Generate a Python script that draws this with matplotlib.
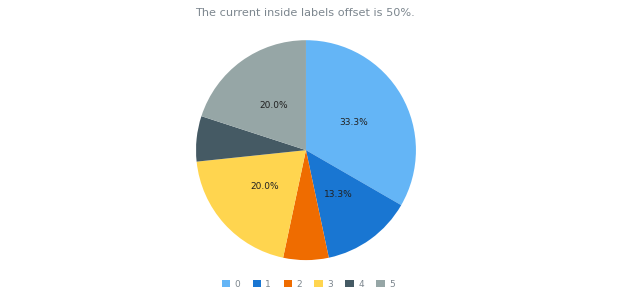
import matplotlib
matplotlib.use("Agg")
import matplotlib.pyplot as plt
from matplotlib.patches import Patch

# slice values (shown as percentages)
categories = ['0', '1', '2', '3', '4', '5']
values = [5, 2, 1, 3, 1, 3]
colors = ['#64b5f6', '#1976d2', '#ef6c00', '#ffd54f', '#455a64', '#96a6a6']

title = 'The current inside labels offset is 50%.'

fig = plt.figure(figsize=(6.2, 3.0), dpi=100)
ax = fig.add_axes([0.316, 0.133, 0.355, 0.733])


def fmt(p):
    # small slices get no label
    return '%.1f%%' % p if p > 10 else ''


wedges, texts, autotexts = ax.pie(values, colors=colors, startangle=90,
                                  counterclock=False, autopct=fmt,
                                  pctdistance=0.5,
                                  textprops=dict(fontsize=6.5, color='#212121'))
ax.set_xlim(-1.0, 1.0)
ax.set_ylim(-1.0, 1.0)
ax.set_aspect('equal')

fig.text(0.492, 0.955, title, ha='center', va='center', fontsize=8.1,
         color='#7c868e')

handles = [Patch(facecolor=c, edgecolor='none') for c in colors]
leg = fig.legend(handles, categories, loc='center', bbox_to_anchor=(0.497, 0.053),
                 ncol=6, frameon=False, fontsize=6.5, handlelength=0.9,
                 handleheight=0.9, handletextpad=0.5, columnspacing=1.4)
for t in leg.get_texts():
    t.set_color('#7c868e')

fig.savefig('out.png', dpi=100)
